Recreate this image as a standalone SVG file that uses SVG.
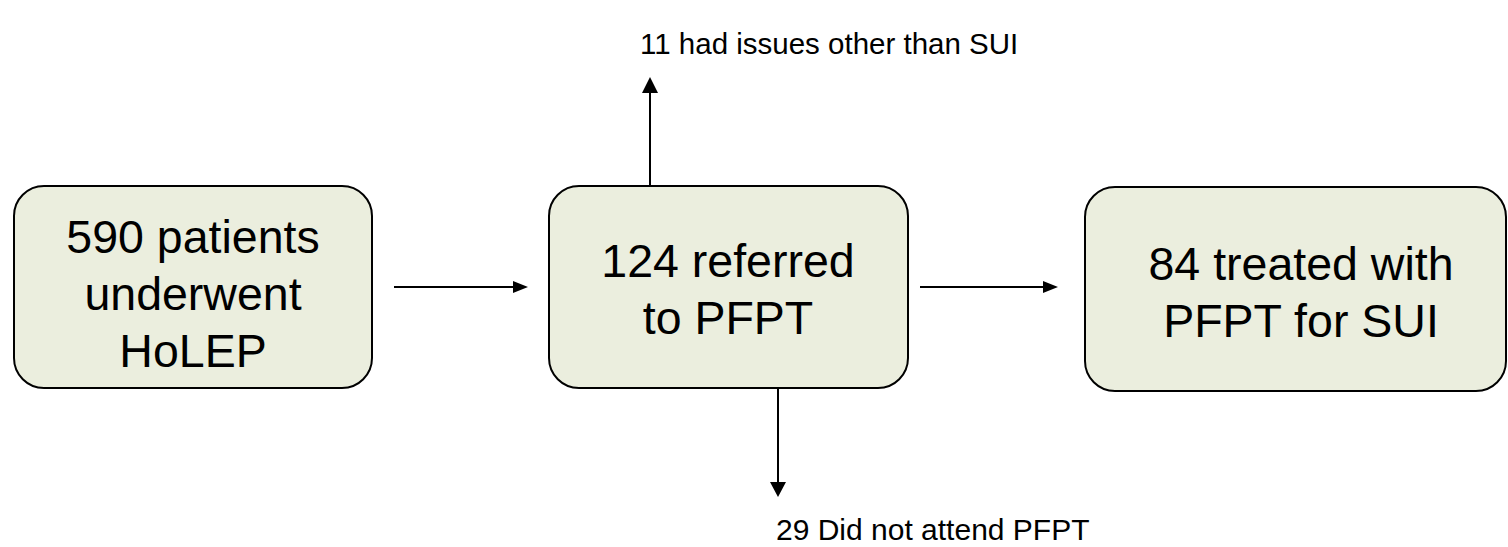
<svg xmlns="http://www.w3.org/2000/svg" width="1508" height="547" viewBox="0 0 1508 547">
<defs>
<style>
.box{fill:#EBEEDE;stroke:#000;stroke-width:2}
.t{font-family:"Liberation Sans",Arial,sans-serif;font-size:46.5px;fill:#000;text-anchor:middle}
.s{font-family:"Liberation Sans",Arial,sans-serif;font-size:29.5px;fill:#000}
.ln{stroke:#000;stroke-width:2;fill:none}
.ah{fill:#000}
</style>
</defs>
<rect width="1508" height="547" fill="#fff"/>
<g id="connectors">
<line class="ln" x1="394" y1="287" x2="515" y2="287"/>
<path class="ah" d="M513,281 L528,287 L513,293 Z"/>
<line class="ln" x1="920" y1="287" x2="1045" y2="287"/>
<path class="ah" d="M1043,281 L1058,287 L1043,293 Z"/>
<line class="ln" x1="650" y1="186" x2="650" y2="92"/>
<path class="ah" d="M642,93 L650,77 L658,93 Z"/>
<line class="ln" x1="778" y1="388" x2="778" y2="483"/>
<path class="ah" d="M770,482 L778,497 L786,482 Z"/>
</g>
<g id="node-holep">
<rect class="box" x="14" y="186" width="358" height="202" rx="30" ry="30"/>
<text class="t" x="193" y="253">590 patients</text>
<text class="t" x="193" y="310">underwent</text>
<text class="t" x="193" y="367">HoLEP</text>
</g>
<g id="node-referred">
<rect class="box" x="549" y="186" width="359" height="202" rx="30" ry="30"/>
<text class="t" x="728" y="277">124 referred</text>
<text class="t" x="728" y="334">to PFPT</text>
</g>
<g id="node-treated">
<rect class="box" x="1085" y="187" width="421" height="204" rx="30" ry="30"/>
<text class="t" x="1301" y="280">84 treated with</text>
<text class="t" x="1301" y="337">PFPT for SUI</text>
</g>
<g id="label-other">
<text class="s" x="640" y="54">11 had issues other than SUI</text>
</g>
<g id="label-notattend">
<text class="s" x="776" y="540" style="font-size:30px">29 Did not attend PFPT</text>
</g>
</svg>
